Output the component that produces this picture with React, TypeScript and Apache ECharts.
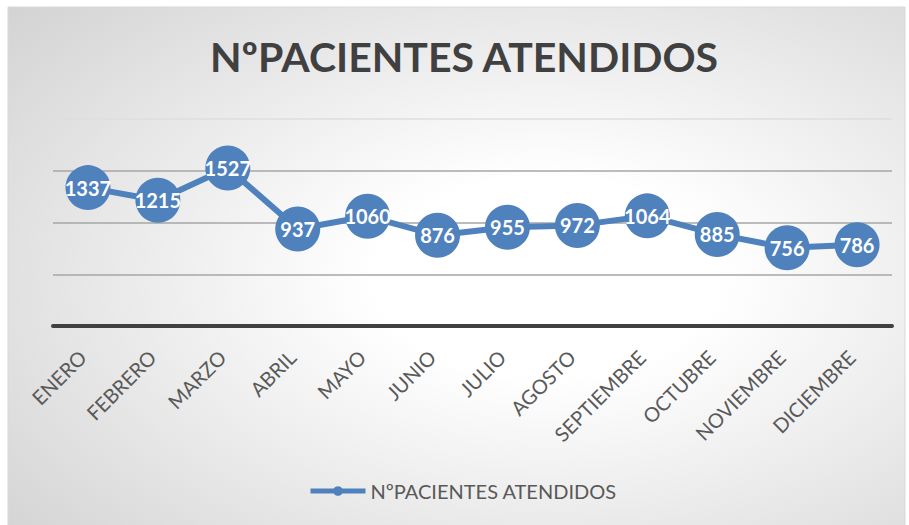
import React, { useEffect, useRef } from "react";
import * as echarts from "echarts";

const months = ["ENERO", "FEBRERO", "MARZO", "ABRIL", "MAYO", "JUNIO", "JULIO", "AGOSTO", "SEPTIEMBRE", "OCTUBRE", "NOVIEMBRE", "DICIEMBRE"];
const patients = [1337, 1215, 1527, 937, 1060, 876, 955, 972, 1064, 885, 756, 786];
const seriesName = "NºPACIENTES ATENDIDOS";
const titleText = "NºPACIENTES ATENDIDOS";

export default function App() {
  const ref = useRef<HTMLDivElement>(null);
  useEffect(() => {
    if (!ref.current) return;
    const chart = echarts.init(ref.current, undefined, { renderer: "svg" });
    chart.setOption({
      animation: false,
      graphic: [
        {
          type: "rect",
          z: -10,
          silent: true,
          shape: { x: 8, y: 7, width: 897, height: 520 },
          style: {
            fill: {
              type: "radial",
              x: 0.6,
              y: 0.52,
              r: 1.05,
              colorStops: [
                { offset: 0, color: "#ffffff" },
                { offset: 0.18, color: "#ffffff" },
                { offset: 1, color: "#c0c0c0" },
              ],
            },
            stroke: "#d9d9d9",
            lineWidth: 1,
          },
        },
      ],
      title: {
        text: titleText,
        left: 205,
        top: 31,
        textStyle: { fontFamily: "Lato", fontWeight: "bold", fontSize: 41, color: "#404040" },
      },
      legend: {
        left: 303,
        top: 476,
        itemWidth: 55,
        itemHeight: 12,
        itemGap: 4,
        lineStyle: { width: 5 },
        textStyle: { fontFamily: "Lato", fontSize: 20, color: "#595959" },
        data: [seriesName],
      },
      grid: { left: 53, right: 17, top: 119, bottom: 199 },
      xAxis: {
        type: "category",
        data: months,
        boundaryGap: true,
        axisLine: { show: true, lineStyle: { color: "#404040", width: 4 } },
        axisTick: { show: false },
        axisLabel: {
          rotate: 45,
          interval: 0,
          margin: 22,
          padding: [0, 8, 0, 0],
          fontFamily: "Lato",
          fontSize: 20,
          color: "#595959",
        },
      },
      yAxis: {
        type: "value",
        min: 0,
        max: 2000,
        interval: 500,
        axisLabel: { show: false },
        axisLine: { show: false },
        axisTick: { show: false },
        splitLine: {
          show: true,
          lineStyle: { color: ["#a6a6a6", "#a6a6a6", "#a6a6a6", "#a6a6a6", "#dedede"], width: 1.5 },
        },
      },
      series: [
        {
          name: seriesName,
          type: "line",
          data: patients,
          symbol: "circle",
          symbolSize: 45,
          itemStyle: { color: "#4F81BD" },
          lineStyle: { color: "#4F81BD", width: 6 },
          label: {
            show: true,
            position: "inside",
            color: "#ffffff",
            fontFamily: "Lato",
            fontWeight: "bold",
            fontSize: 20,
          },
        },
      ],
    });
    return () => chart.dispose();
  }, []);
  return (
    <div
      ref={ref}
      style={{ position: "fixed", left: 0, top: 0, width: 909, height: 525, background: "#ffffff" }}
    />
  );
}
